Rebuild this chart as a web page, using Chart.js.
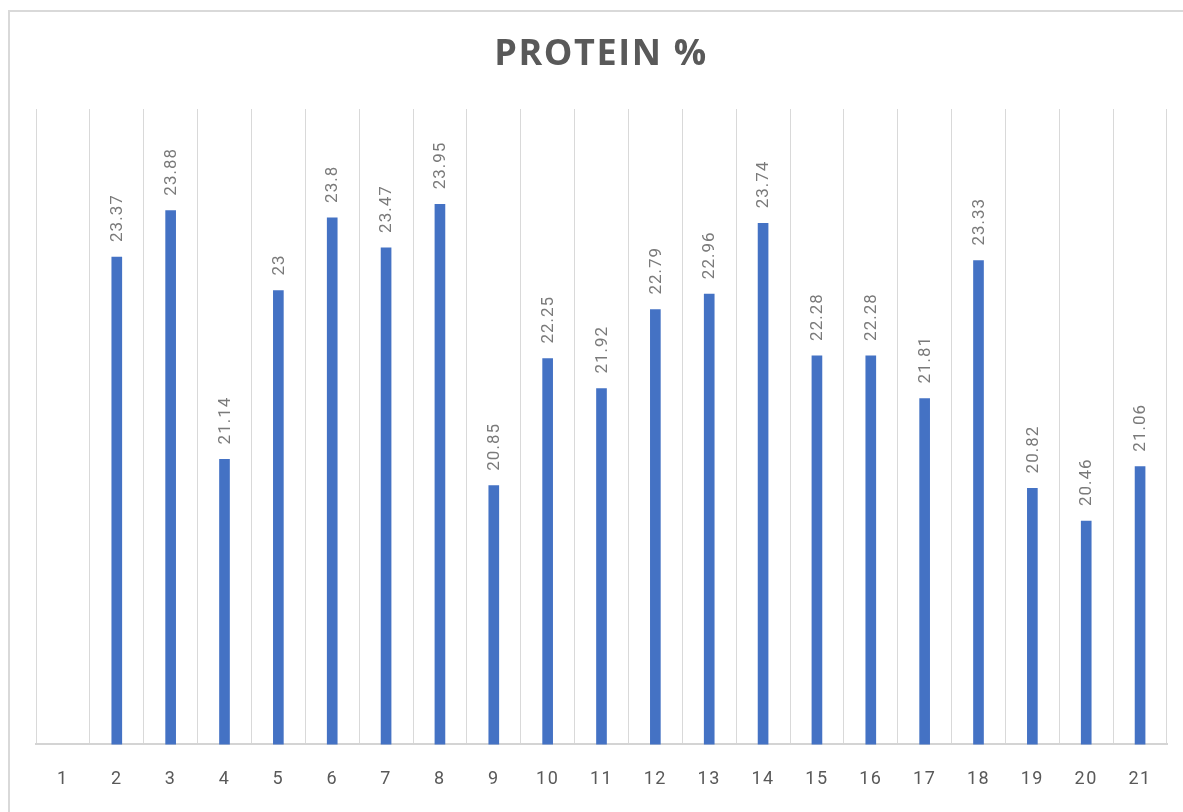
<!DOCTYPE html>
<html>
<head>
<meta charset="utf-8">
<script src="https://cdn.jsdelivr.net/npm/chart.js@4.4.0/dist/chart.umd.min.js"></script>
<style>
  html, body { margin: 0; padding: 0; background: #fff; overflow: hidden; }
  #marco { position: absolute; left: 8px; top: 10px; width: 1300px; height: 900px; border: 2px solid #d9d9d9; box-sizing: border-box; }
  #caja { position: absolute; left: 0; top: 0; width: 1183px; height: 812px; }
</style>
</head>
<body>
<div id="marco"></div>
<div id="caja"><canvas id="grafico1"></canvas></div>
<script>
var muestras = ['1','2','3','4','5','6','7','8','9','10','11','12','13','14','15','16','17','18','19','20','21'];
var proteina = [null, 23.37, 23.88, 21.14, 23, 23.8, 23.47, 23.95, 20.85, 22.25, 21.92, 22.79, 22.96, 23.74, 22.28, 22.28, 21.81, 23.33, 20.82, 20.46, 21.06];
var titulo = 'PROTEIN %';

//------------------------------------------------------------------
// etiquetas rotadas encima de cada barra
//------------------------------------------------------------------
var etiquetas = {
  id: 'etiquetas',
  afterDatasetsDraw: function(chart){
    var ctx = chart.ctx;
    var meta = chart.getDatasetMeta(0);
    ctx.save();
    ctx.font = '17px Roboto';
    ctx.letterSpacing = '1px';
    ctx.fillStyle = '#7a7a7a';
    ctx.textAlign = 'left';
    ctx.textBaseline = 'middle';
    meta.data.forEach(function(bar, i){
      var v = chart.data.datasets[0].data[i];
      if(v === null) return;
      ctx.save();
      ctx.translate(bar.x + 1, bar.y - 15);
      ctx.rotate(-Math.PI/2);
      ctx.fillText(String(v), 0, 0);
      ctx.restore();
    });
    ctx.restore();
  }
};

//------------------------------------------------------------------
// espaciado en etiquetas del eje x y titulo
//------------------------------------------------------------------
var espaciado = {
  id: 'espaciado',
  beforeDraw: function(chart){ chart.ctx.letterSpacing = '1.5px'; },
  afterDraw: function(chart){
    var ctx = chart.ctx;
    ctx.save();
    ctx.font = 'bold 36px "Open Sans"';
    ctx.letterSpacing = '1.6px';
    ctx.fillStyle = '#595959';
    ctx.textAlign = 'center';
    ctx.textBaseline = 'middle';
    ctx.fillText(titulo, 601, 55);
    ctx.restore();
  }
};

var ctx = document.getElementById('grafico1').getContext('2d');
var grafico = new Chart(ctx, {
  type: 'bar',
  data: {
    labels: muestras,
    datasets: [{
      label: titulo,
      data: proteina,
      backgroundColor: '#4472c4',
      barThickness: 10
    }]
  },
  options: {
    responsive: true,
    maintainAspectRatio: false,
    animation: false,
    layout: { padding: { left: 36, right: 16, top: 109, bottom: -2 } },
    plugins: {
      legend: { display: false },
      title: { display: false },
      tooltip: { enabled: false }
    },
    scales: {
      x: {
        grid: { offset: true, color: '#d9d9d9', lineWidth: 1, drawTicks: false },
        border: { color: '#d4d4d4', width: 2 },
        ticks: { color: '#595959', font: { family: 'Roboto', size: 18 }, padding: 24 }
      },
      y: { display: false, min: 18, max: 25 }
    }
  },
  plugins: [etiquetas, espaciado]
});
</script>
</body>
</html>
